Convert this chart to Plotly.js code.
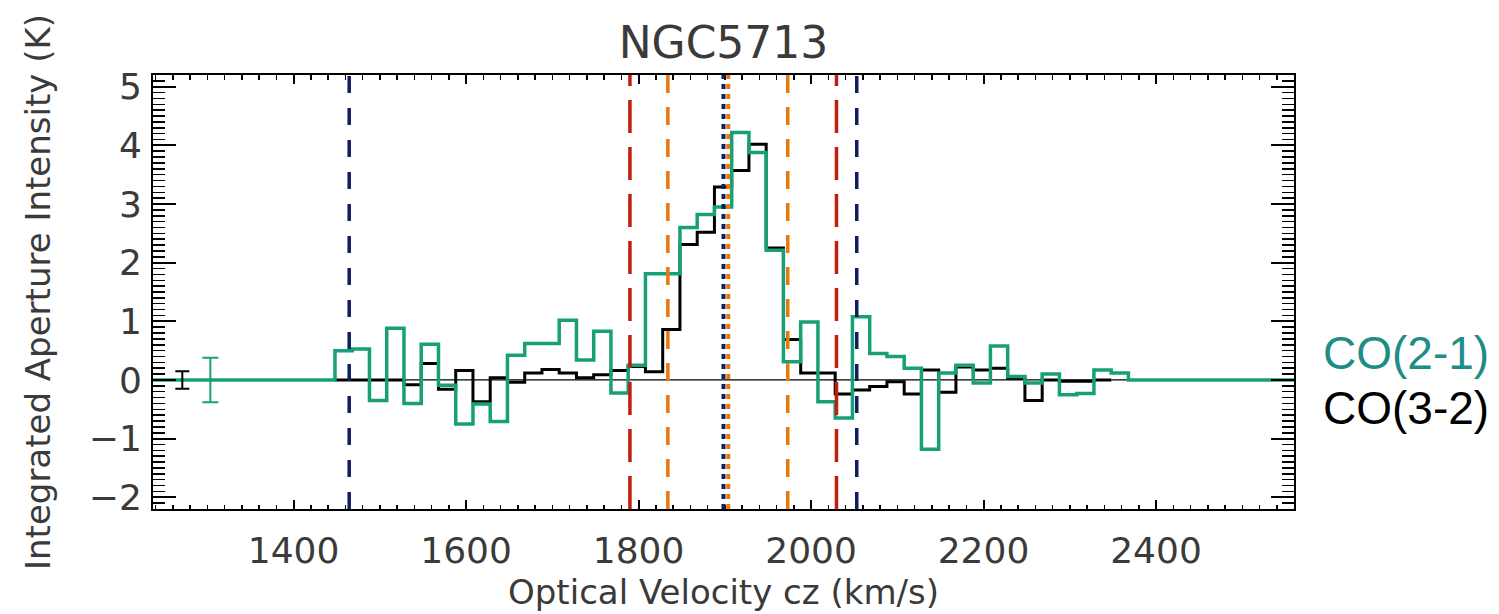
<!DOCTYPE html>
<html>
<head>
<meta charset="utf-8">
<script src="https://cdn.plot.ly/plotly-3.0.1.min.js"></script>
<style>
  html, body { margin: 0; padding: 0; background: #fff; }
  #chart { width: 1499px; height: 614px; }
</style>
</head>
<body>
<div id="chart"></div>
<script>
// Channel edges of the spectra (km/s)
const chanEdges = [1448, 1468, 1488, 1508, 1528, 1548, 1568, 1588, 1608, 1628,
                   1648, 1668, 1688, 1708, 1728, 1748, 1768, 1788, 1808, 1828,
                   1848, 1868, 1888, 1908, 1928, 1948, 1968, 1988, 2008, 2028,
                   2048, 2068, 2088, 2108, 2128, 2148, 2168, 2188, 2208, 2228,
                   2248, 2268, 2288, 2308, 2328, 2348, 2368];

// CO(2-1) integrated aperture intensity per channel (K)
const co21 = [0.50, 0.53, -0.35, 0.88, -0.40, 0.61, -0.09, -0.75, -0.41, -0.71,
              0.42, 0.62, 0.62, 1.02, 0.34, 0.83, -0.22, 0.25, 1.81, 1.81,
              2.60, 2.82, 2.95, 4.22, 3.88, 2.21, 0.31, 0.99, -0.37, -0.65,
              1.08, 0.45, 0.40, 0.20, -1.18, 0.12, 0.25, -0.05, 0.58, 0.06,
              -0.05, 0.10, -0.25, -0.23, 0.17, 0.12];

// CO(3-2) integrated aperture intensity per channel (K)
const co32 = [0.00, 0.00, 0.00, 0.00, -0.08, 0.28, -0.16, 0.16, -0.37, 0.04,
              -0.04, 0.12, 0.18, 0.12, 0.04, 0.09, 0.16, 0.23, 0.14, 0.86,
              2.31, 2.52, 3.29, 3.57, 4.02, 2.25, 0.69, 0.12, 0.12, -0.24,
              -0.17, -0.11, -0.03, -0.24, 0.17, -0.21, 0.22, 0.17, 0.20, 0.03,
              -0.35, 0.00, -0.02, -0.02, 0.00];

// Typical channel noise shown as error bars at the left
const errX = [1271, 1303.5];
const errSigma = [0.15, 0.38];

// Reference velocities (km/s)
const navyDashed = [1464.5, 2053];
const redDashed = [1790, 2029.5];
const orangeDashed = [1834, 1973];
const navyDotted = [1898.5];
const orangeDotted = [1904];

const X_RANGE = [1237, 2560];
const Y_RANGE = [-2.2, 5.2];

const GREEN = '#17a078';
const NAVY = '#0c1f5e';
const RED = '#c21e0c';
const ORANGE = '#ea780c';
const AXFONT = 'DejaVu Sans, sans-serif';
const TEXTCOL = '#3a3a3a';

// CO(3-2) steps
const blackX = chanEdges.slice(0, co32.length + 1);
const blackY = co32.concat([co32[co32.length - 1]]);

// CO(2-1) steps, with a zero baseline running to the frame on both sides
const greenX = [X_RANGE[0]].concat(chanEdges, [X_RANGE[1]]);
const greenY = [0].concat(co21, [0, 0]);

const traces = [
  {
    x: blackX, y: blackY, type: 'scatter', mode: 'lines',
    line: { shape: 'hv', color: '#000', width: 3 },
    hoverinfo: 'skip', showlegend: false
  },
  {
    x: greenX, y: greenY, type: 'scatter', mode: 'lines',
    line: { shape: 'hv', color: GREEN, width: 3.5 },
    hoverinfo: 'skip', showlegend: false
  },
  {
    x: [errX[0]], y: [0], type: 'scatter', mode: 'markers',
    marker: { size: 1, color: '#000', opacity: 0 },
    error_y: { type: 'data', array: [errSigma[0]], color: '#000', thickness: 2, width: 7 },
    hoverinfo: 'skip', showlegend: false
  },
  {
    x: [errX[1]], y: [0], type: 'scatter', mode: 'markers',
    marker: { size: 1, color: GREEN, opacity: 0 },
    error_y: { type: 'data', array: [errSigma[1]], color: GREEN, thickness: 2, width: 8 },
    hoverinfo: 'skip', showlegend: false
  }
];

function vline(x, color, dash, width) {
  return {
    type: 'line', xref: 'x', yref: 'paper', x0: x, x1: x, y0: 0, y1: 1,
    line: { color: color, width: width, dash: dash }, layer: 'above'
  };
}

const shapes = [
  // zero level
  { type: 'line', xref: 'paper', yref: 'y', x0: 0, x1: 1, y0: 0, y1: 0,
    line: { color: '#000', width: 1.3 }, layer: 'below' }
];
navyDashed.forEach(v => shapes.push(vline(v, NAVY, '17px,15px', 3.5)));
redDashed.forEach(v => shapes.push(vline(v, RED, '33px,14px', 3.5)));
orangeDashed.forEach(v => shapes.push(vline(v, ORANGE, '18px,14px', 3.5)));
navyDotted.forEach(v => shapes.push(vline(v, NAVY, '5px,5px', 4)));
orangeDotted.forEach(v => shapes.push(vline(v, ORANGE, '5px,5px', 4)));

const layout = {
  width: 1499, height: 614,
  margin: { l: 153, r: 205, t: 75, b: 105 },
  paper_bgcolor: '#fff', plot_bgcolor: '#fff',
  showlegend: false,
  title: {
    text: 'NGC5713',
    font: { family: AXFONT, size: 44, color: TEXTCOL },
    x: 0.5, xref: 'paper', xanchor: 'center',
    y: 0.93, yref: 'container', yanchor: 'middle'
  },
  xaxis: {
    range: X_RANGE, showgrid: false, zeroline: false,
    showline: true, linecolor: '#000', linewidth: 2, mirror: 'allticks',
    ticks: 'inside', ticklen: 9, tickwidth: 2, tickcolor: '#000',
    dtick: 200, tick0: 0,
    minor: { ticks: 'inside', ticklen: 4.5, tickwidth: 1.5, tickcolor: '#000', dtick: 20, showgrid: false },
    tickfont: { family: AXFONT, size: 36, color: TEXTCOL },
    ticklabelstandoff: 9,
    title: { text: 'Optical Velocity cz (km/s)', font: { family: AXFONT, size: 34, color: TEXTCOL }, standoff: 10 }
  },
  yaxis: {
    range: Y_RANGE, showgrid: false, zeroline: false,
    showline: true, linecolor: '#000', linewidth: 2, mirror: 'allticks',
    ticks: 'inside', ticklen: 23, tickwidth: 2, tickcolor: '#000',
    dtick: 1, tick0: 0,
    minor: { ticks: 'inside', ticklen: 12, tickwidth: 1.5, tickcolor: '#000', dtick: 0.1, showgrid: false },
    tickfont: { family: AXFONT, size: 36, color: TEXTCOL },
    ticklabelstandoff: 2,
    title: { text: 'Integrated Aperture Intensity (K)', font: { family: AXFONT, size: 34, color: TEXTCOL }, standoff: 28 }
  },
  shapes: shapes,
  annotations: [
    { text: 'CO(2-1)', xref: 'paper', yref: 'paper', x: 1.0235, y: 0.36,
      xanchor: 'left', yanchor: 'middle', showarrow: false,
      font: { family: 'Liberation Sans, Arial, sans-serif', size: 46, color: '#1e8c87' } },
    { text: 'CO(3-2)', xref: 'paper', yref: 'paper', x: 1.0235, y: 0.233,
      xanchor: 'left', yanchor: 'middle', showarrow: false,
      font: { family: 'Liberation Sans, Arial, sans-serif', size: 46, color: '#000' } }
  ]
};

Plotly.newPlot('chart', traces, layout, { staticPlot: true, displayModeBar: false });
</script>
</body>
</html>
